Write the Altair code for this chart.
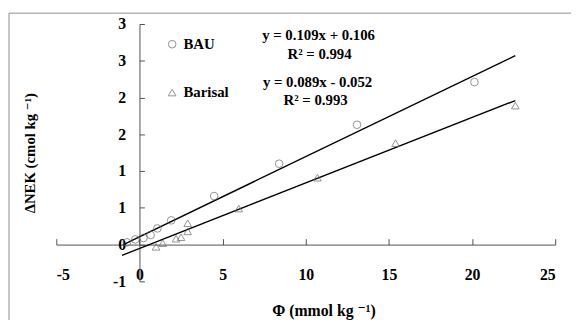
import altair as alt
import pandas as pd

# ---- data ----
series_names = ["BAU", "Barisal"]

bau_x = [-0.75, -0.25, 0.24, 0.67, 1.08, 1.91, 4.49, 8.4, 13.08, 20.14]
bau_y = [0.03, 0.07, 0.09, 0.13, 0.22, 0.33, 0.66, 1.10, 1.63, 2.21]

barisal_x = [1.0, 1.4, 2.2, 2.5, 2.9, 2.9, 5.97, 10.7, 15.4, 22.6]
barisal_y = [-0.03, 0.02, 0.08, 0.10, 0.18, 0.29, 0.49, 0.91, 1.38, 1.89]

slopes = [0.109, 0.089]
intercepts = [0.106, -0.052]
r_squared = [0.994, 0.993]
trend_x_start = [-1.0, -1.05]
trend_x_end = [22.6, 22.6]

x_ticks = [-5, 0, 5, 10, 15, 20, 25]
y_ticks = [-0.5, 0, 0.5, 1.0, 1.5, 2.0, 2.5, 3.0]
y_tick_labels = ["-1", "0", "1", "1", "2", "2", "3", "3"]

x_title = "Φ (mmol kg ⁻¹)"
y_title = "ΔNEK (cmol kg ⁻¹)"

# ---- tables ----
pts = pd.DataFrame({
    "x": bau_x + barisal_x,
    "y": bau_y + barisal_y,
    "series": [series_names[0]] * len(bau_x) + [series_names[1]] * len(barisal_x),
})

rows = []
for name, m, b, x0, x1 in zip(series_names, slopes, intercepts, trend_x_start, trend_x_end):
    for xv in (x0, x1):
        rows.append({"x": xv, "y": m * xv + b, "series": name})
trend = pd.DataFrame(rows)

def eq_text(m, b):
    sign = "+" if b >= 0 else "-"
    return f"y = {m:.3f}x {sign} {abs(b):.3f}"

eq_labels = [eq_text(m, b) for m, b in zip(slopes, intercepts)]
r2_labels = [f"R² = {r:.3f}" for r in r_squared]

FONT = "'Liberation Serif', 'Times New Roman', 'DejaVu Serif', serif"
W, H = 506, 261
XMIN, XMAX = -5, 25
YMIN, YMAX = -0.5, 3.0
x0_px = (0 - XMIN) / (XMAX - XMIN) * W
y0_from_bottom = (0 - YMIN) / (YMAX - YMIN) * H

xscale = alt.Scale(domain=[XMIN, XMAX], nice=False, zero=False)
yscale = alt.Scale(domain=[YMIN, YMAX], nice=False, zero=False)

ylab_map = " : ".join(
    f"datum.value == {v} ? '{l}'" for v, l in zip(y_ticks, y_tick_labels)
) + " : ''"

AXC = "#505050"

lines = alt.Chart(trend).mark_line(color="black", strokeWidth=1.4).encode(
    x=alt.X("x:Q", scale=xscale, axis=alt.Axis(
        orient="top", offset=-(H - y0_from_bottom), values=x_ticks, labels=False,
        title=None, domainColor=AXC, tickColor=AXC, tickSize=6, grid=False)),
    y=alt.Y("y:Q", scale=yscale, axis=alt.Axis(
        orient="right", offset=-(W - x0_px), values=y_ticks, labels=False,
        title=None, domainColor=AXC, tickColor=AXC, tickSize=5, grid=False)),
    detail="series:N",
)

points = alt.Chart(pts).mark_point(filled=False, size=60, strokeWidth=1, color="#666666").encode(
    x=alt.X("x:Q", scale=xscale, axis=alt.Axis(
        orient="bottom", offset=-15, values=x_ticks, domain=False, ticks=False,
        labelPadding=0, grid=False,
        labelExpr="datum.value < 0 ? '-' + (-datum.value) : '' + datum.value",
        title=x_title, titleX=271, titleY=45, titleBaseline="middle",
        titleAnchor="start", titleAlign="center", titleFontSize=16)),
    y=alt.Y("y:Q", scale=yscale, axis=alt.Axis(
        orient="left", offset=-x0_px, values=y_ticks, domain=False, ticks=False,
        labelPadding=14, grid=False, labelExpr=ylab_map,
        title=y_title, titleX=-111, titleY=130.5, titleAngle=270,
        titleAlign="center", titleBaseline="middle")),
    shape=alt.Shape("series:N", scale=alt.Scale(domain=series_names, range=["circle", "triangle-up"]),
                    legend=alt.Legend(title=None, orient="none", legendX=110, legendY=13,
                                      rowPadding=33, padding=0, labelOffset=4,
                                      symbolStrokeColor="#666666", symbolFillColor="transparent",
                                      symbolSize=60, symbolStrokeWidth=1,
                                      labelFont=FONT, labelFontSize=15, labelFontWeight="bold",
                                      labelColor="black")),
)

border = alt.Chart(pd.DataFrame({"a": [0]})).mark_rect(fill=None, stroke="#8c8c8c", strokeWidth=1).encode(
    x=alt.value(-48), x2=alt.value(W + 40), y=alt.value(-11), y2=alt.value(H + 60)
)

txt_style = dict(font=FONT, fontSize=15, fontWeight="bold", align="center", baseline="middle", color="black")
texts = [
    alt.Chart(pd.DataFrame({"t": [eq_labels[0]]})).mark_text(**txt_style).encode(
        text="t:N", x=alt.value(266), y=alt.value(11)),
    alt.Chart(pd.DataFrame({"t": [r2_labels[0]]})).mark_text(**txt_style).encode(
        text="t:N", x=alt.value(267), y=alt.value(30)),
    alt.Chart(pd.DataFrame({"t": [eq_labels[1]]})).mark_text(**txt_style).encode(
        text="t:N", x=alt.value(265), y=alt.value(59)),
    alt.Chart(pd.DataFrame({"t": [r2_labels[1]]})).mark_text(**txt_style).encode(
        text="t:N", x=alt.value(263), y=alt.value(77)),
]

chart = alt.layer(border, lines, points, *texts).resolve_axis(
    x="independent", y="independent"
).properties(
    width=W, height=H,
    autosize=alt.AutoSizeParams(type="none"),
    padding={"left": 49, "top": 14, "right": 16, "bottom": 40},
).configure_view(stroke=None).configure_axis(
    labelFont=FONT, labelFontSize=16, labelFontWeight="bold", labelColor="black",
    titleFont=FONT, titleFontSize=15, titleFontWeight="bold", titleColor="black",
)

chart.save("out.html", embed_options={"renderer": "svg", "actions": False})
